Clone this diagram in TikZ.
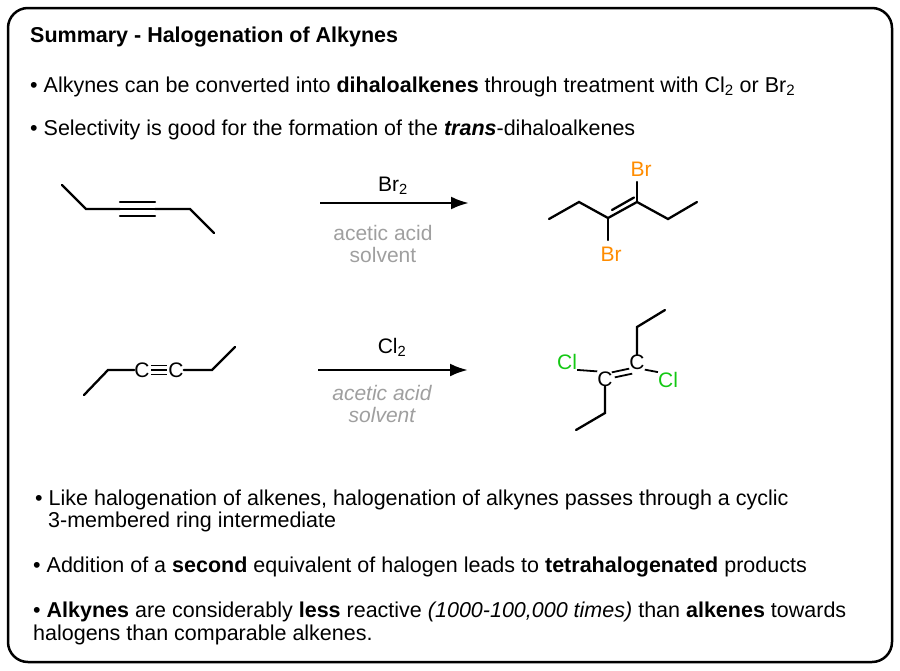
\documentclass[tikz,border=0pt]{standalone}
\usepackage{fontspec}
\setmainfont{Liberation Sans}
\usetikzlibrary{arrows.meta,calc}
\begin{document}
\begin{tikzpicture}[x=1pt,y=-1pt,
  txt/.style={anchor=base west,inner sep=0pt,font=\fontsize{21.5}{25}\selectfont},
  bnd/.style={line width=2.3pt,line cap=round},
  lab/.style={inner sep=0pt,font=\fontsize{21}{25}\selectfont},
  gr/.style={lab,text=gray!75},
  arr/.style={line width=2.8pt,-{Latex[length=18pt,width=13pt]}}]
\useasboundingbox (0,0) rectangle (900,670);
\definecolor{brc}{RGB}{255,140,0}
\definecolor{clc}{RGB}{20,200,20}
\draw[line width=2.5pt,rounded corners=20pt] (8,8) rectangle (892,662);
\node[txt,font=\bfseries\fontsize{21.5}{25}\selectfont] (t) at (30,42) {Summary - Halogenation of Alkynes};
\node[txt] (b1) at (30,92) {• Alkynes can be converted into \textbf{dihaloalkenes} through treatment with Cl\textsubscript{2} or Br\textsubscript{2}};
\node[txt] (b2) at (30,135) {• Selectivity is good for the formation of the \textbf{\textit{trans}}-dihaloalkenes};
\node[txt] (b3) at (35,505) {• Like halogenation of alkenes, halogenation of alkynes passes through a cyclic};
\node[txt] (b3b) at (48,527) {3-membered ring intermediate};
\node[txt] (b4) at (33,572) {• Addition of a \textbf{second} equivalent of halogen leads to \textbf{tetrahalogenated} products};
\node[txt] (b5) at (33,617) {• \textbf{Alkynes} are considerably \textbf{less} reactive \textit{(1000-100,000 times)} than \textbf{alkenes} towards};
\node[txt] (b5b) at (33,640) {halogens than comparable alkenes.};
% molecule 1
\draw[bnd] (62,185)--(86,209)--(120,209);
\draw[bnd] (155,209)--(190,209)--(214,233);
\draw[bnd] (120,202)--(155,202) (120,209)--(155,209) (120,216)--(155,216);
% arrow 1
\coordinate (a1s) at (320,203); \coordinate (a1e) at (469,203);
\draw[arr] (a1s)--(a1e);
\node[lab] (r1) at (393,186) {Br\textsubscript{2}};
\node[gr] (s1) at (383,233) {acetic acid};
\node[gr] (s1b) at (383,255) {solvent};
% product 1
\draw[bnd] (549,219)--(579,202)--(608,218)--(637,202)--(668,219)--(697,202);
\draw[bnd] (612,210)--(634,197.5);
\node[lab,text=brc] (brb) at (611,254) {Br};
\node[lab,text=brc] (brt) at (641,169) {Br};
\draw[bnd] (608,218)--(608,240);
\draw[bnd] (637,202)--(637,182);
% molecule 2
\node[lab] (c1) at (142,370) {C};
\node[lab] (c2) at (176,370) {C};
\draw[bnd] (84,395)--(108,370)--(c1.west);
\draw[bnd] (c2.east)--(212,370)--(235,347);
\draw[line width=1.8pt] ($(c1.east)+(1,-4.5)$)--($(c2.west)+(-1,-4.5)$) ($(c1.east)+(1,0)$)--($(c2.west)+(-1,0)$) ($(c1.east)+(1,4.5)$)--($(c2.west)+(-1,4.5)$);
% arrow 2
\coordinate (a2s) at (318,370); \coordinate (a2e) at (468,370);
\draw[arr] (a2s)--(a2e);
\node[lab] (r2) at (392,347) {Cl\textsubscript{2}};
\node[gr,font=\itshape\fontsize{21}{25}\selectfont] (s2) at (382,393) {acetic acid};
\node[gr,font=\itshape\fontsize{21}{25}\selectfont] (s2b) at (382,415) {solvent};
% product 2
\node[lab,text=clc] (cl1) at (567,362) {Cl};
\node[lab] (c3) at (605,379) {C};
\node[lab] (c4) at (637,362) {C};
\node[lab,text=clc] (cl2) at (668,380) {Cl};
\draw[line width=1.8pt] (cl1.south east)--(c3.north west);
\draw[line width=1.8pt] (c4.south east)--(cl2.north west);
\draw[line width=1.8pt] ($(c3.north east)+(-1,1)$)--($(c4.south west)+(0,-1)$);
\draw[line width=1.8pt] ($(c3.north east)+(2,6)$)--($(c4.south west)+(3,4)$);
\draw[bnd] (c4.north)--(637,327)--(665,310);
\draw[bnd] (c3.south)--(605,413)--(576,430);
\end{tikzpicture}
\end{document}
